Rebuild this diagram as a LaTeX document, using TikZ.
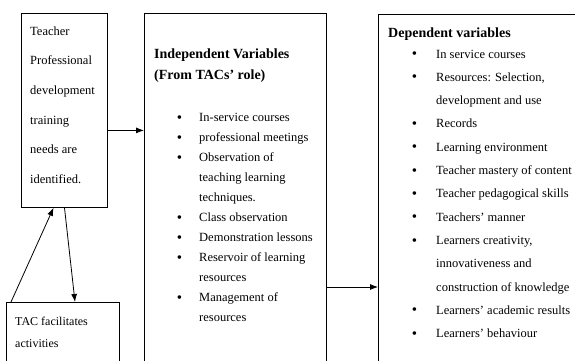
\documentclass[tikz,border=0pt]{standalone}
\usepackage{fontspec}
\setmainfont{Liberation Serif}
\usepackage{tikz}
\usetikzlibrary{arrows.meta,positioning}
\newlength{\bulletgap}
\newcommand{\dotitem}{\llap{\raisebox{-0.6pt}{\fontsize{15}{0}\selectfont\textbullet}\hspace{\bulletgap}}}
\tikzset{
    every node/.style={align=left,},
    box/.style={draw,rectangle,line width=0.8pt,inner sep=0pt,anchor=north west,},
    boxtext/.style={inner sep=0pt,},
    link/.style={-{Latex[length=8pt,width=6pt]},line width=0.8pt,},
}

\begin{document}
\begin{tikzpicture}[x=1pt,y=-1pt]
        \path[use as bounding box,clip] (0,0) rectangle (575,360);

        \node[box,minimum width=86pt,minimum height=194pt] (needs) at (20.5,13) {};
        \node[box,minimum width=113pt,minimum height=80pt] (facilitates) at (6,302) {};
        \node[box,minimum width=182pt,minimum height=370pt] (independent) at (144,12.5) {};
        \node[box,minimum width=222pt,minimum height=370pt] (dependent) at (378,14) {};

        \node[boxtext,below right=13.5pt and 9.5pt of needs.north west,font=\fontsize{12.5}{29.6}\selectfont] (needs_text)
            {Teacher\\Professional\\development\\training\\needs are\\identified.};
        \node[boxtext,below right=14.5pt and 9pt of facilitates.north west,font=\fontsize{12}{22}\selectfont] (facilitates_text)
            {TAC facilitates\\activities};

        \node[boxtext,below right=36.3pt and 10pt of independent.north west,font=\bfseries\fontsize{14}{20.7}\selectfont] (independent_title)
            {Independent Variables\\(From TACs' role)};
        \node[boxtext,below right=101pt and 55pt of independent.north west,font=\fontsize{12.5}{20}\selectfont\setlength{\bulletgap}{17pt}] (independent_list)
            {\dotitem In-service courses\\
             \dotitem professional meetings\\
             \dotitem Observation of\\
             teaching learning\\
             techniques.\\
             \dotitem Class observation\\
             \dotitem Demonstration lessons\\
             \dotitem Reservoir of learning\\
             resources\\
             \dotitem Management of\\
             resources};

        \node[boxtext,below right=13.2pt and 10pt of dependent.north west,font=\bfseries\fontsize{14}{20.7}\selectfont] (dependent_title)
            {Dependent variables};
        \node[boxtext,below right=35.6pt and 58pt of dependent.north west,font=\fontsize{12.5}{23.3}\selectfont\setlength{\bulletgap}{19pt}] (dependent_list)
            {\dotitem In service courses\\
             \dotitem Resources: Selection,\\
             development and use\\
             \dotitem Records\\
             \dotitem Learning environment\\
             \dotitem Teacher mastery of content\\
             \dotitem Teacher pedagogical skills\\
             \dotitem Teachers' manner\\
             \dotitem Learners creativity,\\
             innovativeness and\\
             construction of knowledge\\
             \dotitem Learners' academic results\\
             \dotitem Learners' behaviour};

        \coordinate (needs_out) at ([yshift=-20pt]needs.east);
        \coordinate (independent_out) at ([yshift=-274.5pt]independent.north east);

        \draw[link] (needs_out) to (needs_out -| independent.west);
        \draw[link] (independent_out) to (independent_out -| dependent.west);

        \draw[link] ([xshift=5pt]facilitates.north west) to ([xshift=33pt]needs.south west);
        \draw[link] ([xshift=44pt]needs.south west) to ([xshift=69pt]facilitates.north west);
    \end{tikzpicture}
\end{document}
